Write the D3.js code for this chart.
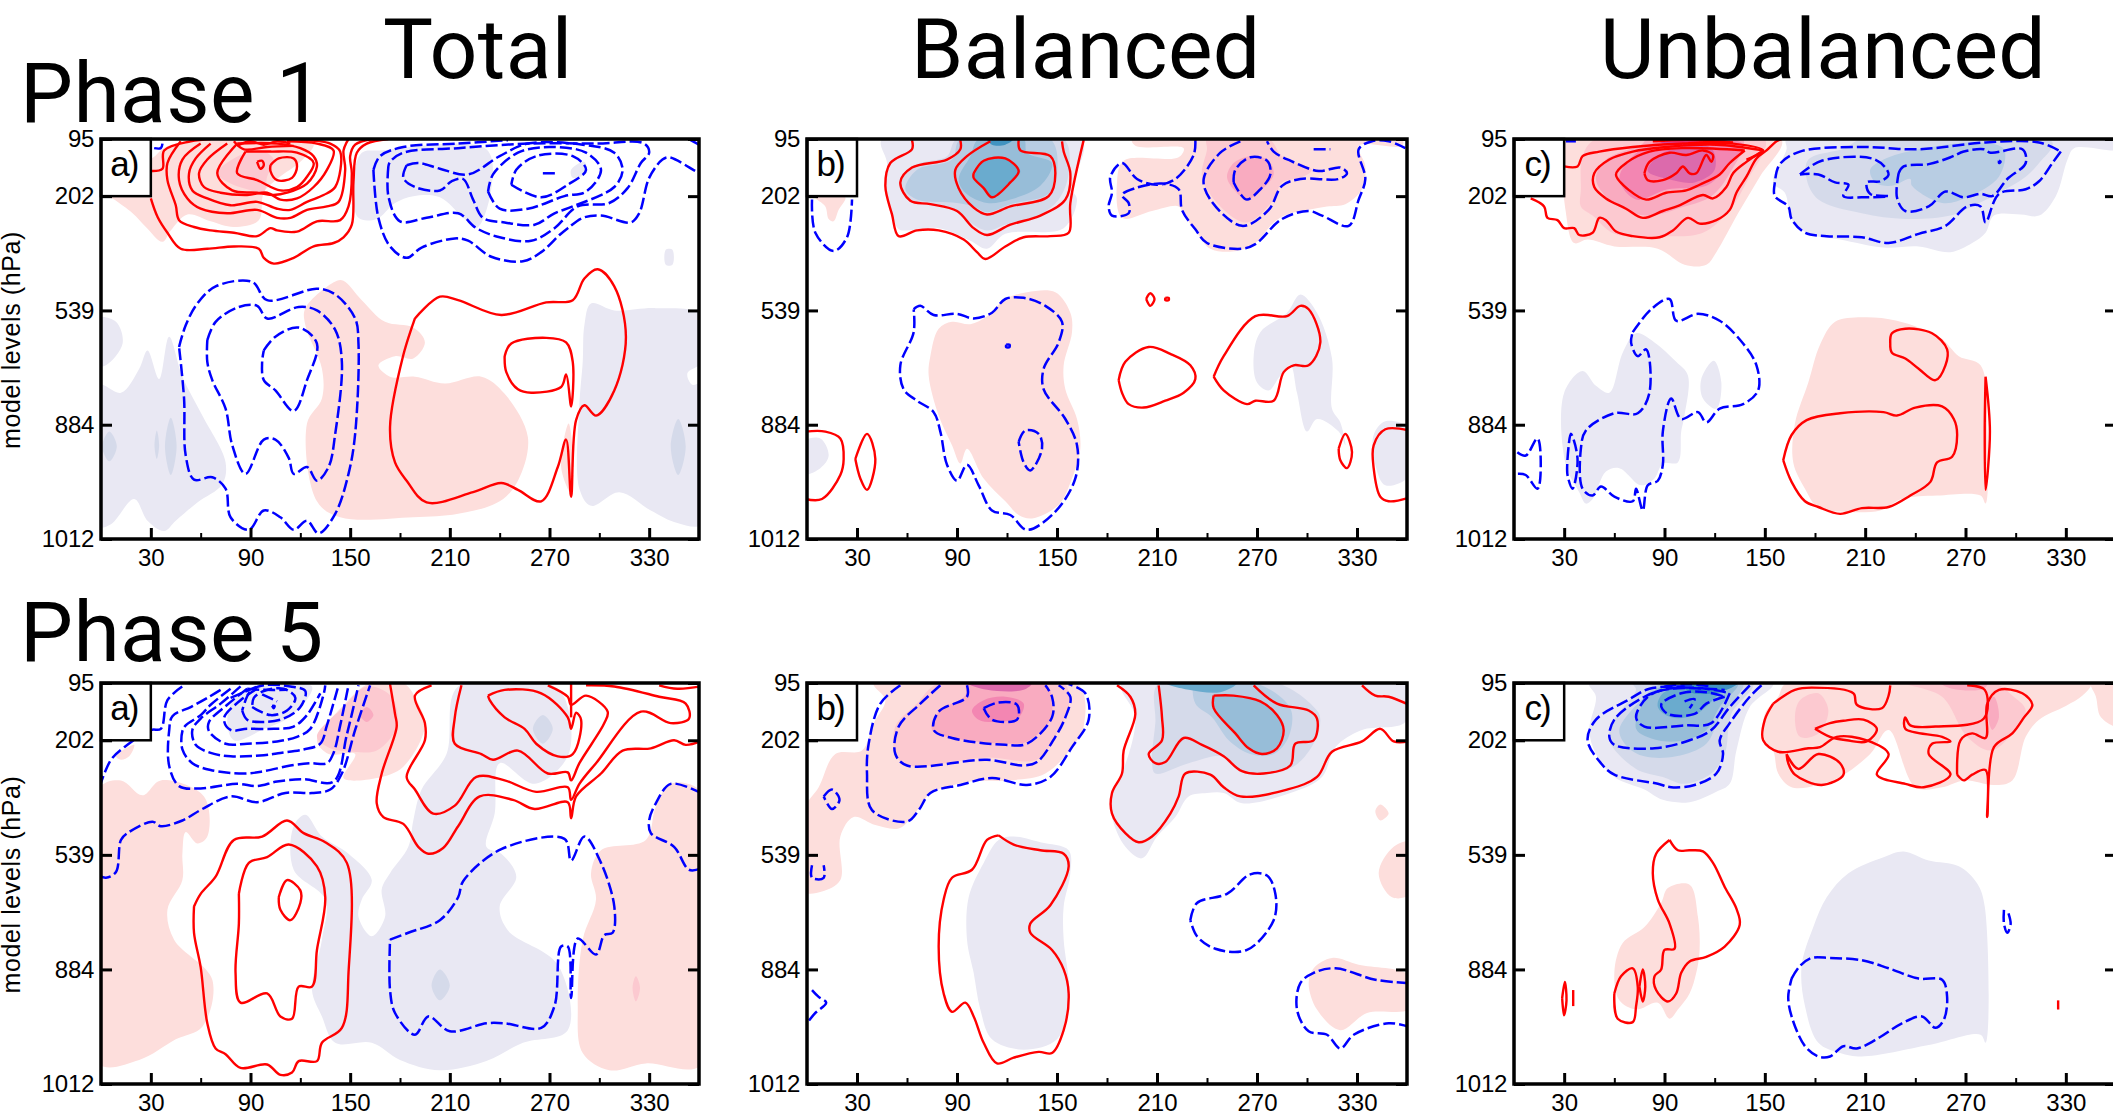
<!DOCTYPE html>
<html>
<head>
<meta charset="utf-8">
<script src="https://cdn.jsdelivr.net/npm/d3@7/dist/d3.min.js"></script>
<style>
  html, body { margin: 0; padding: 0; background: #fff; overflow: hidden; }
  .title { font-family: Roboto, sans-serif; font-size: 84px; letter-spacing: .4px; fill: #000; }
  .tick text, .tag, .ylab { font-family: "Liberation Sans", Arial, sans-serif; fill: #000; }
</style>
</head>
<body>
<svg id="fig" width="2113" height="1116"></svg>
<script>
const ring = p => p.concat([p[0]]);

// axis labels
const lonMajor = [30, 90, 150, 210, 270, 330];
const lonMinor = [60, 120, 180, 240, 300];
const levelTicks = [0, 5, 15, 25, 35];
const levelLabels = ['95', '202', '539', '884', '1012'];

// shaded bands: [band, outline as [lon, model level]]
// contours: red is solid, blue is dashed

// ---------- Phase 1 Total ----------
const p1TotalShade = [
  [-1, [[155,6.9],[152,3.7],[157,1.2],[168,1],[232,.9],[235,4.3],[226,7.8],[218,6.9],[204,5.1],[188,5],[177,5.6],[166,7]]],
  [-1, [[283,2.7],[291,2],[292,3],[284,3.4]]],
  [-1, [[340,9.7],[344,9.7],[344,11],[340,11]]],
  [-1, [[-2,15.7],[9,16],[13,17.9],[3,19.8],[-2,19.8]]],
  [-1, [[-2,21.5],[12,22.2],[23,20.1],[28,18.5],[35,21],[41,17.3],[49,20.8],[61,24.2],[75,28.3],[73,30.2],[58,31.8],[45,33.4],[38,34.3],[28,33.4],[20,31.5],[6,33.7],[-2,33.9]]],
  [-1, [[291,16.3],[295,14.4],[309,15],[334,14.8],[362,15.4],[362,19.5],[353,20.5],[356,21.5],[362,21.4],[362,33.7],[347,33.6],[331,32.5],[312,30.9],[295,32.1],[288,30.6],[288,23.3],[290,19.5]]],
  [-2, [[5,25.6],[9.5,26.9],[5,28.2],[.7,26.9]]],
  [-2, [[42,24.4],[45.5,26.9],[42,29.4],[38.5,26.9]]],
  [-2, [[33.6,25.5],[35,26.8],[33.6,28],[32.2,26.8]]],
  [-2, [[347.5,24.5],[352,26.9],[347.5,29.4],[343,26.9]]],
  [1, [[29,1.8],[39,.7],[60,0],[100,0],[128,.4],[120,2],[107,3.4],[98,4.7],[95,7.1],[80,7.7],[66,7.2],[52,6.6],[42,8],[37,9],[27,7.7],[19,6.5],[8,5.3],[5,5],[5,1.8]]],
  [2, [[70,3],[80,1.7],[96,1],[104,1.8],[100,3.3],[98,4.6],[86,4.3],[78,3.9]]],
  [1, [[123,14.8],[142,12.4],[146,12.4],[157,14.1],[171,16],[188,16.5],[195,17.8],[188,19.2],[177,19],[167,19.8],[174,20.8],[189,20.8],[207,21.4],[229,20.8],[243,22.3],[257,26.1],[251,29.9],[240,31.7],[215,32.8],[188,33.1],[144,33.1],[130,31.7],[124,24.9],[133,22.7],[133,20.1],[123,16.3]]],
  [1, [[281.5,24.9],[284,27.4],[283,31],[277,28.7]]]
];
const p1TotalRed = [
  [[30,5.2],[34,6.8],[40,8.2],[48,9.6],[64,9.6],[80,9.4],[95,9.6],[98,10.4],[104,10.9],[116,10.4],[128,9.4],[140,9.1],[146,8.6],[151,7.5],[152,3.7],[154,1.2],[160,.4],[173,0]],
  [[30,2.8],[37,2.6],[38,1],[54,.2],[66,0]],
  [[48,.2],[40,2.1],[40,3.6],[45,5.8],[47,7.1],[56,7.7],[66,8],[80,8.2],[94,8.5],[102,7.8],[106,8],[118,8.1],[130,7.2],[144,7.1],[149,5.9],[151,3],[150,1.5],[153,.5],[163,0]],
  [[60,.4],[49,1.8],[47,3.6],[52,5.2],[60,6.1],[76,6.5],[94,6.2],[106,6.9],[114,6.9],[124,6.2],[136,5.9],[143,5.5],[147,2.7],[146,1],[149,0]],
  [[66,.4],[57,1.7],[53,3],[55,4.5],[64,5.2],[78,5.8],[94,5.5],[106,6.1],[114,6.2],[124,5.5],[134,4.9],[141,4.2],[144,1.1],[138,.4],[120,.1]],
  [[76,.4],[64,1.8],[59,3],[62,4.2],[72,4.7],[88,4.9],[100,4.7],[108,5.3],[118,5.2],[128,4.2],[136,2.7],[140,1],[130,.4],[112,.2]],
  ring([[82,.4],[70,3],[79,4.5],[94,4.7],[104,4.9],[112,4.7],[124,3.9],[130,2.4],[128,1.5],[120,.8],[106,.4]]),
  ring([[87,1.1],[82,3],[94,3.6],[108,4.5],[118,4.2],[124,3.3],[128,2.1],[118,1.2],[102,1.1]]),
  ring([[102,2.3],[107,1.7],[116,1.7],[118,2.4],[115,3.4],[106,3.6],[102,2.8]]),
  ring([[94,2],[97,1.9],[98,2.3],[96,2.6]]),
  [[80,.2],[86,.9],[100,.7],[116,.6]],
  [[82,.6],[90,.2],[98,.5],[106,.2],[114,.4]],
  ring([[189,15.7],[204,13.8],[215,14.1],[241,15.4],[268,14.3],[284,14.1],[291,12.2],[299,11.4],[309,12.9],[316,17.3],[309,22],[298,24.2],[291,23.3],[286,24.6],[283,31.3],[280,26.3],[275,28.7],[265,31.7],[251,30.7],[241,30.1],[224,30.9],[196,31.8],[184,29.9],[177,28.3],[174,25.2],[182,18.9]]),
  ring([[243,19],[247,17.9],[268,17.4],[280,17.8],[284,19.5],[283,23.4],[280,20.6],[277,21.7],[259,22.2],[251,21.9],[244,20.4]])
];
const p1TotalBlue = [
  [[32,.8],[36,.8],[37,.4]],
  [[164,2.7],[167,6.9],[174,9.4],[184,10.4],[193,9.5],[213,8.7],[221,8.9],[235,10.3],[254,10.7],[265,9.9],[276,8.4],[281,7.8],[290,6.9],[301,6.7],[319,7.3],[324,6.5],[330,3.4],[338,1.8],[342,1.6],[359,2.9],[362,3.1]],
  [[164,2.7],[168,1.5],[182,.7],[215,.4],[245,.1]],
  [[355,.1],[360,.5]],
  ring([[173,2.4],[173,5],[180,7.2],[196,6.9],[215,6.5],[226,7.8],[240,8.6],[259,8.9],[273,7.8],[287,5.9],[306,5.6],[317,4.3],[325,2.1],[330,1.2],[327,.4],[298,.4],[257,.4],[215,.8],[182,1.2],[174,2]]),
  ring([[184,2.3],[182,3.4],[189,4.2],[204,4.5],[211,3.7],[218,3.5],[224,5.3],[230,6.9],[243,7.3],[261,7.5],[273,6.5],[284,5.9],[309,4.2],[314,2.7],[309,1.2],[290,.5],[257,.4],[240,1.5],[221,3.1],[204,2.6],[191,2.1]]),
  ring([[233,4.6],[240,6.1],[257,6.1],[279,5],[292,4.6],[301,2.7],[292,1.2],[270,.7],[251,1.2],[236,3.1]]),
  ring([[247,4],[265,5.1],[281,4],[292,2.7],[284,1.5],[262,1.5],[250,2.7]]),
  [[266,3],[275,3]],
  ring([[47,18.2],[51,16.3],[58,14.4],[69,12.9],[91,12.5],[100,14.1],[130,13.1],[141,13.6],[153,15.7],[155,17.9],[153,25.8],[149,29.3],[141,32.8],[131,34.5],[124,33.4],[116,34.2],[108,33.1],[98,32.5],[89,34.2],[78,33.1],[75,30.6],[67,29.6],[56,29.8],[51,27.7],[50,22.7]]),
  ring([[64,17.6],[69,16],[83,14.7],[94,14.6],[100,15.7],[119,14.7],[130,15],[141,16.7],[145,19.5],[141,25.8],[137,28.7],[130,29.9],[124,28.7],[116,29.3],[113,27.9],[105,26.3],[98,26.3],[87,29.3],[79,26.8],[75,23.6],[67,21.1],[64,19.5]]),
  ring([[98,18.5],[105,17.3],[119,16.5],[130,17.9],[124,21.1],[116,23.8],[105,22],[98,21.1],[97,19.5]])
];

// ---------- Phase 1 Balanced ----------
const p1BalShade = [
  [-1, [[45,0],[165,0],[159,4.3],[162,5.3],[154,7.8],[119,8.3],[108,9.6],[98,8.9],[79,7.8],[60,8],[55,7.9],[51,6.5],[47,4.1],[48,2.1]]],
  [-2, [[60,5.3],[56,3.5],[66,2.2],[84,1.5],[90,0],[154,0],[157,3],[151,5.3],[140,6.6],[119,7.5],[108,8],[98,7.3],[90,6.2],[74,5.7]]],
  [-3, [[59,4.4],[66,2.7],[87,1.8],[92,0],[146,0],[150,3],[145,4.8],[122,5.7],[108,6.4],[100,5.9],[90,5.6],[66,5.3]]],
  [-4, [[91,3.5],[98,1.5],[103,0],[130,0],[132,1.2],[147,2.1],[140,4.1],[122,5.3],[108,5.6],[95,4.7]]],
  [-5, [[100,3.1],[106,1.9],[119,1.7],[128,2.8],[122,3.8],[111,5.1],[106,4.3]]],
  [-6, [[108,0],[124,0],[119,.5],[111,.5]]],
  [1, [[190,1.9],[223,1.6],[226,.8],[197,.6],[195,0],[357,0],[357,.6],[331,.6],[335,2.4],[333,4.4],[323,5.7],[312,5.9],[301,6.2],[288,6.6],[280,7.3],[269,9.1],[258,9.8],[242,9.6],[234,8.2],[226,6.6],[223,5.9],[207,6.3],[189,6.9],[186,3.8]]],
  [2, [[237,3.3],[240,.9],[240,0],[277,0],[285,1.5],[303,2.7],[296,3.4],[285,3.8],[280,5.3],[264,7.3],[248,5.9]]],
  [3, [[252,3.3],[256,2.1],[266,1.5],[277,1.9],[280,3.1],[273,4.4],[264,5.3],[256,4.4]]],
  [1, [[5,5.1],[23,5.1],[19,6.2],[16,7.2],[13,7],[11,5.9]]],
  [1, [[79,16.6],[87,16],[98,16.2],[108,15.5],[119,14],[132,13.4],[149,13.4],[158,15.2],[159,16.9],[154,19.8],[155,21.9],[162,24.5],[164,27.1],[159,29.7],[151,32],[135,33.2],[127,32.9],[119,31.7],[106,29.7],[96,27.1],[92,28.4],[87,26.8],[79,24.2],[73,20.7],[74,19]]],
  [-1, [[-2,26.5],[8,26.2],[13,27.7],[8,28.8],[-2,29.3]]],
  [-1, [[340,25.9],[347,24.7],[362,25.4],[362,29.4],[347,30.3],[341,28.5]]],
  [-1, [[268,19],[272,16.9],[288,15.2],[296,13.6],[306,15.2],[315,19.2],[315,23.6],[320,24.8],[323,26.8],[319,25.6],[306,24.5],[300,25.6],[294,22.2],[290,19.8],[284,20.7],[277,22],[270,21.3]]]
];
const p1BalRed = [
  [[166,.1],[158,5.6],[157,8.2],[146,8.5],[130,8.6],[119,9.4],[107,10.5],[102,9.9],[94,8.8],[79,8],[66,8],[55,8.5],[51,6.6],[47,4.1],[50,2.1],[63,.9],[63,.1]],
  [[153,.2],[154,1.1],[158,3],[155,5.3],[140,6.7],[122,7.5],[108,8.4],[100,7.8],[90,6.3],[74,5.7],[62,5.4],[56,3.8],[63,2.5],[84,1.8],[92,.9],[92,.1]],
  [[127,.1],[128,1],[146,1.5],[149,3],[145,5],[122,5.9],[108,6.6],[100,6],[91,4.3],[89,2.7],[96,1.5],[110,.2]],
  ring([[100,3],[106,1.9],[119,1.7],[127,2.8],[122,3.8],[111,5.1],[106,4.3],[100,3.4]]),
  ring([[203.5,14],[206,13.5],[208.5,14],[206,14.6]]),
  ring([[215,13.9],[217,13.9],[217,14.1],[215,14.1]]),
  ring([[187,21.1],[191,19.5],[205,18.2],[218,18.8],[230,19.8],[233,21],[226,22.2],[215,22.9],[202,23.5],[193,23.2],[189,22.2]]),
  ring([[244,20.8],[250,19],[269,15.5],[288,15.5],[296,14.6],[301,14.9],[308,17.8],[301,19.8],[292,19.8],[286,20.4],[280,22.9],[269,22.9],[264,23.2],[250,22]]),
  [[-1,25.6],[11,25.6],[20,26.2],[22,28],[20,29.4],[9,31.5],[-1,31.5]],
  ring([[29,28],[36,25.8],[41,28],[36,30.7],[32,29.7]]),
  ring([[319,27.1],[323,25.8],[327,27.4],[324,28.8],[320,28.1]]),
  [[361,25.5],[347,25.4],[340,26.8],[340,28.8],[344,31.3],[349,31.7],[361,31.4]]
];
const p1BalBlue = [
  [[233,.1],[232,1.4],[221,3.5],[210,4],[198,3.5],[189,2.1],[182,3.3],[183,4.7],[181,5.9],[183,6.7],[193,6.5],[193,5.6],[189,4.9],[197,4.3],[213,3.9],[223,4.4],[225,6.2],[233,7.9],[240,9.1],[261,9.6],[269,9.2],[285,7],[301,6.3],[309,6.7],[325,7.6],[331,5.3],[335,3.5],[331,.9],[339,.2],[349,.2],[359,.8]],
  [[260,.2],[248,1.2],[238,3.5],[242,5.3],[261,7.6],[277,6.2],[285,4.1],[296,3.5],[319,3.5],[324,3],[320,2.5],[307,2.8],[290,1.9],[280,1.1],[276,.2]],
  [[304,.9],[314,.9]],
  ring([[256,3.8],[257,2.7],[266,1.6],[276,1.9],[278,3.1],[272,4.4],[264,5.3],[260,4.8]]),
  [[3,5.3],[5,8.2],[16,9.8],[24,8.6],[27,5.3]],
  ring([[64,14.9],[68,14.6],[76,15.4],[90,15.3],[100,15.7],[111,15.2],[119,14],[130,13.9],[143,14.6],[153,16],[151,17.8],[142,20.1],[142,21.9],[155,24.5],[162,26.8],[161,29.7],[149,32.6],[132,34.2],[122,32.9],[111,32.5],[103,30.3],[96,28.5],[90,29.9],[84,28.5],[80,25.6],[76,23.9],[66,22.9],[58,21.9],[56,19.8],[64,16.9]]),
  ring([[127,26.5],[131,25.5],[139,25.8],[141,27.1],[134,29],[130,28.3]]),
  ring([[119.5,18],[121.5,18],[121.5,18.2],[119.5,18.2]])
];

// ---------- Phase 1 Unbalanced ----------
const p1UnbShade = [
  [1, [[37,0],[160,0],[147,3.3],[134,6.5],[121,9.9],[115,11],[102,11],[86,9.6],[60,9.4],[44,8.8],[36,9.1],[31,6.4],[30,0]]],
  [2, [[40,4.4],[41,1.5],[49,0],[150,0],[140,3.5],[129,6.2],[113,8.2],[86,8.5],[60,8.3],[47,6.7],[40,5.9]]],
  [3, [[49,3.5],[55,1.8],[76,.5],[80,0],[137,0],[129,3],[118,5],[102,5.9],[78,6.7],[57,5.3]]],
  [4, [[63,3.5],[71,1.5],[92,0],[137,.5],[126,2.7],[115,4.1],[92,4.4],[73,5.3]]],
  [5, [[80,2.8],[86,1.5],[102,.6],[118,.8],[120,2.7],[108,3.8],[92,3.5]]],
  [6, [[84,0],[129,0],[113,.5],[92,.5]]],
  [-1, [[163,0],[362,0],[362,.9],[335,.8],[331,1.8],[324,5],[314,6.7],[303,6.6],[287,6.7],[282,8.2],[274,9.1],[261,9.9],[242,9.4],[221,9.5],[195,8.8],[176,8.3],[166,7],[162,4.7],[155,3.8],[163,.9]]],
  [-2, [[175,3.5],[176,1.8],[198,.8],[208,0],[322,.3],[314,2.1],[306,3.3],[290,4.7],[274,5.9],[261,6.7],[234,7],[208,6.5],[182,5.3]]],
  [-3, [[213,2.7],[221,1.8],[242,.9],[279,.3],[293,.9],[290,3.3],[271,5.1],[256,5.6],[238,4.1],[237,3.5],[226,4.1],[216,3.8]]],
  [-1, [[30,22.2],[41,20.3],[49,21.6],[57,22.2],[65,18.7],[73,17],[84,17.8],[97,19.5],[104,20.7],[102,24.2],[100,25.6],[98,28.3],[89,28.4],[84,29.7],[76,30.3],[63,28.8],[55,29.1],[47,31.5],[43,31.9],[39,30.9],[31,28.5]]],
  [-1, [[112,21],[119.5,19.4],[124,21.3],[121,23.6],[113,22.7]]],
  [1, [[168,24.9],[176,21.3],[183,18],[192,16],[208,15.6],[229,15.9],[255,17.4],[266,19],[279,19.8],[283,25.6],[282,31.9],[279,31.2],[253,31.2],[232,31.5],[219,32.5],[195,32.6],[182,32.3],[174,30.6],[167,28.3]]]
];
const p1UnbRed = [
  [[10,5.2],[18,5.9],[20,6.9],[26,7.1],[30,7.8],[36,7.8],[39,8.4],[47,8.2],[51,6.9],[55,7.1],[61,8.1],[71,8.5],[87,8.6],[95,8],[104,6.9],[111,7.4],[121,7.1],[129,6.2],[133,4.7],[139,3.3],[145,1.7],[151,1],[157,.2],[160,0]],
  [[30,2.4],[38,2.4],[41,1.5],[51,1.1],[71,.7],[101,.4],[131,.4],[149,1],[139,1.8]],
  ring([[149,1],[139,2],[131,3],[127,4.2],[119,5.2],[113,4.9],[99,5.8],[89,6.3],[77,6.9],[67,6.1],[55,5.2],[48,4.2],[48,3],[57,1.8],[71,1.1],[91,.7],[121,.5]]),
  ring([[138,1],[129,2.1],[123,3.1],[111,4],[103,4.5],[91,4.7],[79,5.3],[69,4.5],[61,3.1],[68,2],[81,1.1],[101,.8]]),
  ring([[78,3],[81,2],[93,1.2],[103,1.4],[113,1],[119,1.4],[118,2],[115,1.4],[109,3],[105,3],[101,2.4],[97,3],[89,3.6],[80,3.6]]),
  [[83,.2],[104,.1],[131,.3]],
  ring([[225,17.9],[226,17],[234,16.6],[250,17],[259,18.4],[258,19.8],[252,21.1],[242,20.1],[234,19.2],[226,18.7]]),
  ring([[161,28.1],[166,25.9],[175,24.6],[195,24],[221,23.9],[229,24.2],[240,23.5],[256,23.4],[263,24.5],[265,25.9],[262,27.8],[253,28.3],[249,30],[237,31.2],[224,32.2],[208,32.3],[195,32.8],[182,32.2],[174,31.7],[166,30]]),
  ring([[282,20.8],[284.6,25.6],[282,30.7],[281.5,25.6]])
];
const p1UnbBlue = [
  ring([[327,1.1],[322,2.1],[314,3.7],[306,4.4],[290,4.8],[282,7.3],[279,5.9],[271,5.9],[258,7.6],[242,8.3],[224,9.1],[208,8.6],[187,8.5],[174,8.2],[166,7],[164,5.9],[156,5],[156,3.8],[159,2.2],[171,1.1],[208,.7],[242,.9],[282,.3],[314,.3]]),
  ring([[171,3.1],[184,1.9],[216,1.8],[224,3.1],[219,3.7],[211,3.8],[213,4.8],[224,5],[208,5.1],[197,5],[200,4],[192,3.8],[182,3.1]]),
  ring([[230,3],[233,2.4],[248,2.2],[261,1.6],[269,1.1],[281,.9],[285,1.2],[304,.9],[306,2.1],[295,3.5],[286,5],[279,4.8],[269,5.1],[258,4.6],[248,5.9],[234,6.3],[229,5.1]]),
  ring([[290,1.9],[291,2],[290,2.1]]),
  [[31,.2],[37,.2]],
  ring([[71,16.9],[82,14.9],[93,14],[97,15.9],[110,15.3],[123,15.9],[137,17.9],[145,19.8],[146,22],[137,23.2],[123,23.6],[115,24.8],[110,23.9],[100,24.5],[94,22.7],[89,25.6],[89,28.5],[86,29.9],[80,30.3],[77,32.5],[73,30.6],[71,31.7],[60,31.3],[52,30.4],[47,31.2],[41,30.6],[40,27.1],[43,25.5],[60,24],[74,24],[81,22.2],[79,18.4],[74,19],[70,17.8]]),
  [[2,27.4],[7,27.7],[14,26.2],[16,28.5],[14,30.6],[7,29.4],[2,29.3]],
  ring([[32,28],[34,25.8],[38,28],[35,30.6],[32,29.4]])
];

// ---------- Phase 5 Total ----------
const p5TotalShade = [
  [1, [[-2,9.3],[12,8.5],[25,9.8],[36,8.5],[62,9.9],[64,13.4],[58,14],[51,13],[49,14.9],[49,17.2],[40,19.8],[44,22.4],[67,25.9],[61,30],[45,31.1],[23,32.9],[-2,33.2]]],
  [1, [[9,6.4],[20,5.4],[17,6.4],[12,6.7]]],
  [1, [[162,0],[182,0],[191,1.8],[195,3.8],[182,7.3],[166,8.3],[146,8.3],[153,6.2],[137,6.2],[130,5],[145,2.1]]],
  [2, [[160,.3],[175,1.2],[178,3.8],[166,5.9],[152,6],[138,5.7],[130,4.7],[146,2.1]]],
  [3, [[156,2.8],[160,2.1],[164,2.8],[160,3.4]]],
  [1, [[301,14.6],[328,13.7],[334,10.8],[343,8.8],[362,9.6],[362,33.3],[328,33.2],[306,33.8],[290,32.3],[287,28.2],[290,22.4],[298,18.9],[295,16.6]]],
  [2, [[322,25.6],[324.5,26.6],[322,27.8],[320,26.6]]],
  [-1, [[116,12.5],[123,11.5],[133,13.4],[149,14.9],[163,17.2],[157,18.9],[155,20.4],[163,22.1],[171,20.4],[169,18],[174,16.6],[185,14.3],[188,12],[193,9.3],[208,6.2],[215,.3],[273,.3],[281,2.1],[281,6.4],[261,8.8],[240,7],[237,11.4],[232,14.3],[241,14.9],[250,16.9],[240,19.5],[245,21.6],[275,24.6],[281,30.3],[254,31.4],[232,33],[204,33.8],[180,32.9],[163,31.4],[141,31.4],[133,29.1],[127,26.8],[133,22.4],[135,18.9],[116,16.3]]],
  [-1, [[76,3.2],[83,.9],[127,.3],[116,2.7],[97,4.1],[80,5]]],
  [-2, [[266,2.8],[272,4],[266,5.3],[260,4]]],
  [-2, [[204,25],[210,26.4],[204,27.7],[199,26.4]]]
];
const p5TotalRed = [
  [[174,.1],[177,2.7],[178,3.8],[169,7.9],[166,10.5],[170,11.7],[182,12.3],[191,14.3],[197,14.9],[206,14.4],[215,12.5],[228,9.9],[248,10.2],[261,11],[281,10.4],[283,11.8],[286,9.9],[301,7.9],[314,5.9],[331,5.7],[345,5],[352,5.4],[361,5.1]],
  [[199,.2],[189,1.1],[195,3.5],[195,5],[184,8.2],[189,9.3],[200,11.4],[213,10.7],[226,8.2],[243,8.5],[262,9.5],[281,9.1],[283,10.2],[288,8.8],[298,7],[325,2.5],[343,3.5],[354,3.1],[352,1.8],[336,1.2],[309,.3],[292,.2]],
  [[217,.2],[213,3],[213,5.3],[229,6.2],[236,6.7],[251,5.9],[269,7.9],[281,7.8],[283,8.5],[288,7],[303,3.5],[305,2.5],[292,1.1],[283,1.9],[281,1.2],[269,.2]],
  ring([[233,1.1],[243,.6],[265,.9],[281,3],[283,4],[286,2.6],[289,3.2],[284,6.2],[275,6.4],[262,5.3],[255,4],[243,3],[234,1.5]]),
  [[336,.2],[347,.5],[361,.3]],
  [[283,0],[283,3]],
  ring([[56,19.5],[60,18.4],[69,16.9],[80,13.7],[97,13.4],[112,12],[122,13.1],[135,13.9],[148,15.7],[149,25.3],[145,30.1],[133,31.4],[130,33],[119,33],[115,34],[108,34.2],[100,33.3],[84,33.6],[75,32.4],[69,31.9],[64,29.7],[60,24.8],[56,21.8]]),
  ring([[83,18.4],[89,15.7],[100,15.2],[113,14.1],[130,16],[135,18.7],[130,23.3],[127,26.5],[119,26.5],[115,29.3],[108,29.1],[100,27.1],[84,27.9],[81,25.3],[83,21]]),
  ring([[107,18.7],[112,17.2],[120,18.1],[120,19.2],[114,20.7],[108,19.8]])
];
const p5TotalBlue = [
  [[-1,16.8],[3,17],[9,16.5],[12,13.7],[16,13.1],[31,12.1],[36,12.5],[49,12],[61,11],[78,9.9],[94,10.4],[111,9.6],[127,9.6],[138,9.3],[145,7.9],[153,4.1],[162,.2]],
  [[-1,9.1],[6,6.7],[14,5.6],[30,4.1],[36,4],[40,1.5],[49,.3]],
  [[72,.6],[64,1.3],[54,2.1],[43,2.9],[41,4.2],[41,7.2],[47,9],[60,9.2],[82,8.8],[94,9],[106,8.6],[122,8.4],[140,8.6],[148,4.5],[155,.2]],
  [[78,.5],[66,1.9],[60,2.8],[51,3.7],[49,4.2],[49,5.8],[55,7],[66,7.6],[86,7.9],[98,7.7],[114,7.2],[126,7],[136,7],[140,6.1],[144,3.7],[149,.2]],
  [[84,.3],[72,1.8],[60,3.1],[55,4.1],[57,5.4],[66,6.1],[78,6.4],[98,6.3],[108,6.1],[122,5.8],[132,5.3],[136,3.7],[143,.2]],
  [[88,.5],[76,1.9],[65,3.4],[65,4.2],[75,5.3],[88,5.3],[106,5.1],[118,4.7],[126,4],[134,1],[135,.2]],
  [[94,.5],[84,1.5],[74,3.1],[78,4.1],[88,4],[104,4],[116,3.8],[124,2.8],[132,.9]],
  ring([[85,2.4],[88,3.2],[98,3.4],[110,3.1],[120,2.1],[123,.7],[114,.3],[98,.2],[90,.7]]),
  ring([[91,2.1],[102,2.8],[112,2.4],[117,1.3],[110,.5],[98,.7],[92,1.3]]),
  [[78,1.3],[94,.3]],
  [[97,1],[106,1.6]],
  [[88,.5],[98,.6],[112,.6]],
  ring([[103,2],[104.5,2],[104,2.2]]),
  [[174,22.4],[185,21.8],[204,20.7],[215,18.7],[218,17.3],[241,14.5],[279,13.6],[283,15.5],[291,13.4],[301,15.7],[309,19.5],[308,21.8],[303,22],[298,23.7],[287,22.3],[283,27.5],[281,23],[277,23],[273,28.2],[265,30.1],[243,29.7],[232,29.7],[210,30.4],[197,29.1],[189,30.7],[177,28.8],[174,26.8],[174,22.4]],
  [[361,16.2],[354,16.3],[345,14.3],[331,13.1],[330,12],[334,10.5],[343,8.8],[361,9.6]]
];

// ---------- Phase 5 Balanced ----------
const p5BalShade = [
  [1, [[40,0],[162,0],[166,3.8],[159,5.6],[143,7.9],[122,8.5],[98,8.6],[79,9.3],[74,9.6],[63,11.7],[55,12.7],[41,12.4],[28,11.7],[20,13.4],[20,17.2],[9,18.2],[-2,18.2],[-2,11.1],[7,9.1],[17,6.2],[33,5.9],[40,3.5],[47,1.5]]],
  [2, [[53,6.2],[53,3.8],[66,1.8],[79,0],[154,0],[157,2.1],[149,4.7],[138,6.7],[108,6.5],[60,7.2]]],
  [3, [[75,4.1],[79,2.5],[95,1.1],[96,0],[143,0],[147,1.8],[146,3.2],[132,5.1],[119,5.3],[84,4.7]]],
  [4, [[99,2.4],[106,1.5],[119,1.2],[130,1.8],[127,3],[114,3.4],[103,3.2]]],
  [5, [[96,0],[135,0],[130,.6],[108,.6]]],
  [1, [[341,11.2],[344,10.6],[349,11.4],[344,12]]],
  [1, [[343,16.6],[352,14.3],[362,13.9],[362,18.4],[351,18.7]]],
  [1, [[301,26.2],[304,24.9],[315,24],[331,24.6],[362,25.6],[362,28.4],[336,28.8],[320,30.3],[306,28.5]]],
  [-1, [[189,0],[362,0],[359,3.4],[333,4.1],[317,5.6],[309,8.2],[290,9.6],[261,10.5],[250,9.6],[240,9.6],[229,9.9],[221,11.7],[210,13.4],[201,15.3],[191,14.3],[183,11.7],[183,9.6],[189,7.9],[197,3]]],
  [-2, [[207,7],[209,3.5],[211,0],[282,0],[306,2.4],[308,3.2],[305,5],[293,7.2],[274,8],[261,7.7],[250,6.4],[229,7],[209,7.9]]],
  [-3, [[233,1.8],[233,0],[269,0],[290,2.2],[289,4.7],[280,6.2],[266,6.2],[253,5],[243,3]]],
  [-4, [[244,1.1],[256,1.1],[272,1.6],[282,2.8],[286,4.1],[282,5.7],[273,6.2],[265,5.7],[257,4.4],[244,2.2]]],
  [-5, [[215,0],[258,0],[248,.8],[229,.6]]],
  [-1, [[96,22.4],[97,18.7],[106,15.7],[115,13.7],[124,13.4],[140,13.9],[157,14.6],[158,16.6],[154,19.5],[154,22.4],[157,25.9],[157,27.7],[150,31.1],[130,32],[111,31.1],[104,28.5],[100,25.3]]]
];
const p5BalRed = [
  [[333,.2],[341,1.1],[349,1.2],[361,1.9]],
  [[186,.2],[194,1.2],[197,2.7],[190,5.9],[189,7.9],[183,9.6],[183,11.4],[191,13.1],[199,13.9],[207,13.4],[218,11.4],[223,9.9],[227,7.9],[242,8],[250,9.1],[260,9.9],[288,9.3],[306,8.2],[315,6],[333,5.1],[344,4],[352,5.1],[361,5.1]],
  [[211,.2],[213,3],[213,5],[205,6.2],[209,7],[215,6.9],[226,4.8],[237,5.4],[250,6.4],[261,7.7],[274,7.9],[290,7.2],[293,5.3],[304,5],[306,3.1],[301,2.4],[282,1.8],[268,.2]],
  ring([[244,1.1],[256,1.1],[272,1.6],[282,2.8],[286,4.1],[282,5.7],[273,6.2],[265,5.7],[257,4.4],[244,2.2]]),
  ring([[115,13.3],[108,13.7],[99,16.3],[87,17],[82,18.9],[79,23],[82,27.1],[87,28.7],[95,27.9],[100,29.1],[106,31.4],[114,33.2],[124,32.7],[139,32.2],[147,32.3],[154,30.3],[157,27.1],[154,25],[147,23.3],[134,21.8],[134,21],[146,19.4],[157,16],[154,14.9],[140,14.6],[124,14.1]])
];
const p5BalBlue = [
  [[56,.2],[44,1.8],[37,5.3],[36,7.9],[39,11.1],[60,12.1],[67,11.1],[74,9.6],[92,8.9],[111,8.3],[132,8.9],[146,8.2],[159,5.6],[169,3.2],[167,.9],[157,.1]],
  [[80,.2],[68,1.8],[55,3.8],[53,6.2],[60,7.2],[108,6.7],[130,7.2],[138,6.9],[149,4.7],[155,3],[158,1.2],[151,.2]],
  [[96,.2],[96,1.2],[79,2.5],[76,4.1],[87,4.8],[119,5.4],[132,5.3],[147,3],[147,1.2],[143,.2]],
  ring([[106,2.2],[115,1.7],[126,1.9],[126,3.2],[111,3.2]]),
  ring([[10,9.9],[15,9.3],[19.5,10.2],[15,11]]),
  [[3,15.9],[3,17],[10,17],[10,15.9]],
  [[3,26.8],[7,27.4],[11.5,27.9],[5,28.8],[1,29.5]],
  ring([[230,20.7],[234,19.2],[252,18.4],[266,16.7],[276,16.8],[281,18.4],[280,20.7],[264,23.3],[245,23.2],[234,22.1]]),
  [[361,26.2],[341,25.9],[317,24.9],[304,25.3],[296,26.2],[294,28.5],[301,30.4],[312,30.7],[320,31.9],[328,30.7],[349,29.7],[361,30]]
];

// ---------- Phase 5 Unbalanced ----------
const p5UnbShade = [
  [-1, [[45,0],[155,0],[141,2.1],[133,5.9],[129,8.8],[121,9.5],[105,10.4],[89,10.2],[78,9.3],[60,8.2],[49,6.2],[45,4.1],[49,1.2]]],
  [-2, [[57,5],[60,3.2],[73,.6],[71,0],[143,0],[130,2.7],[126,6.2],[118,7.9],[102,8.8],[89,8.2],[73,7.5]]],
  [-3, [[63,4.1],[76,1.5],[89,0],[137,0],[123,3],[115,5.3],[97,6.4],[78,6.4],[68,5.6]]],
  [-4, [[73,4],[80,1.2],[94,0],[134,0],[123,2.1],[115,4.1],[102,5],[86,5]]],
  [-5, [[86,2.1],[89,.9],[105,.3],[129,0],[121,1.2],[108,2.8],[94,3]]],
  [-6, [[100,0],[134,0],[123,.8],[105,.8]]],
  [1, [[163,0],[345,0],[340,1.1],[330,2],[314,3.2],[306,4.7],[298,8.5],[287,8.9],[269,8.5],[256,9.1],[240,9.1],[224,4.1],[213,6.2],[195,8.2],[182,8.9],[166,9.1],[158,7.9],[155,5.9],[150,5],[150,2.7],[158,1.2]]],
  [1, [[345,0],[362,0],[362,3.8],[351,3],[348,1.2]]],
  [2, [[168,3],[171,1.5],[182,.9],[188,2.4],[182,4.4],[171,4.7]]],
  [2, [[234,0],[287,0],[298,1.1],[306,2.4],[298,4.4],[285,5.9],[271,4.7],[256,1.2]]],
  [3, [[283,1.8],[287,1.2],[290,3],[286,4.1]]],
  [3, [[255,0],[283,0],[281,.5],[262,.5]]],
  [1, [[60,25.3],[65,22.7],[78,21.3],[88,19.2],[92,17.9],[105,17.6],[110,20.4],[111,23.3],[109,25.3],[105,27.1],[98,28.5],[93,29.3],[86,27.9],[73,28.5],[63,27.7]]],
  [-1, [[172,24.7],[179,21.3],[187,18.7],[200,16.6],[221,15.2],[233,14.7],[248,15.5],[266,16],[277,17.5],[281.5,19.5],[282,31.4],[279,30.7],[248,31.6],[208,32.6],[195,32.3],[182,31.4],[174,28.2]]]
];
const p5UnbRed = [
  [[155,1.8],[168,.6],[178,.4],[203,.9],[205,1.9],[220,2.2],[224,1.1],[225,.2]],
  [[155,1.8],[150,3.2],[149,5],[158,6],[176,5.7],[183,5.6],[193,4.7],[211,5],[224,6.2],[217,8],[234,8.8],[245,9.1],[261,8],[248,6.2],[250,5.3],[261,5.1],[256,4.7],[234,4],[234,3],[237,3.7],[252,3.8],[281,3.1],[281.5,.6],[271,.2]],
  ring([[265,8],[267,5],[274,4.4],[282,4.8],[283,1.8],[290,.6],[304,.9],[310,1.9],[305,3],[298,4.4],[287,5.6],[283,11.7],[282,7.6],[274,8],[269,8.5]]),
  ring([[180,4],[189,3.5],[197,3.3],[209,3.2],[217,4],[211,5.1],[199,5],[189,4.7]]),
  ring([[163,6.2],[170,7.5],[182,6.2],[195,7],[197,8],[184,8.9],[168,8],[164,7]]),
  ring([[93,13.7],[85,14.9],[83,16.6],[86,18.9],[93,21],[96,23.2],[90,23.3],[88,25],[84,25.6],[85,26.8],[92,27.8],[97,27.1],[100,25.3],[105,24.3],[115,23.9],[126,23],[135,21.1],[133,19.7],[126,17.8],[119,15.7],[113,14.7],[105,14.6],[98,14.6]]),
  ring([[60,27.1],[64,25.6],[71,24.9],[74,26.5],[73,28.2],[71,29.6],[62,29.3]]),
  ring([[75,26.5],[77,25],[78.5,26.5],[77,27.8]]),
  ring([[28.8,27.5],[30.4,26.1],[31.4,27.7],[29.9,29]]),
  [[35.4,26.8],[35.4,28.2]],
  [[325.4,27.7],[325.4,28.5]]
];
const p5UnbBlue = [
  [[148,.2],[141,1.2],[129,3.5],[123,5],[125,6.2],[121,7.9],[108,8.9],[94,9.1],[86,8.8],[60,8],[52,7],[44,5],[49,3.2],[68,1.5],[81,.5],[102,.3]],
  [[141,.2],[129,2.1],[118,4.1],[105,5],[84,5.7],[60,5.4],[57,4.7],[60,3.2],[78,1.2],[94,.5],[126,.6]],
  ring([[129,.9],[118,3.5],[102,3.7],[78,3.8],[73,3],[80,1.2],[92,.5],[115,.5]]),
  ring([[126,1.2],[115,1.8],[108,2.7],[92,2.7],[88,1.9],[100,.9],[115,.8]]),
  [[102,1.6],[108,1.4],[105,2.2]],
  [[90,.3],[104,.1],[118,.3]],
  ring([[166,25.8],[171,24.7],[178,24],[189,24],[208,24.2],[224,24.9],[242,25.8],[256,25.9],[259,27.4],[257,29.4],[252,30.1],[244,29.1],[232,29.7],[219,30.9],[205,31.9],[197,31.7],[189,32.6],[182,32.6],[174,31.7],[166,29.1],[164,27.4]]),
  [[293,19.8],[293,21],[295,21.8],[297,21],[295,19.8]]
];

// layout
const W = 2113, H = 1116;
const cols = [{x: 101, w: 598}, {x: 807, w: 600}, {x: 1514, w: 602}];
const rows = [{y: 139, h: 400}, {y: 683, h: 401}];
const shadeCols = {
  '-1': '#e9e8f3', '-2': '#d5daea', '-3': '#b8cde3', '-4': '#97bdd8', '-5': '#6babce', '-6': '#3f93c0',
  '1': '#fddedc', '2': '#fcc9d0', '3': '#f9abc0', '4': '#f386b2', '5': '#dc6aac', '6': '#d6409c'
};

const svg = d3.select('#fig');
svg.append('rect').attr('width', W).attr('height', H).attr('fill', '#fff');

const defs = svg.append('defs');
defs.append('filter').attr('id', 'soft')
  .append('feGaussianBlur').attr('stdDeviation', 0.4);

function paintPanel(col, row, tag, id, shade, red, blue, showY) {
  const x = d3.scaleLinear().domain([0, 360]).range([col.x, col.x + col.w]);
  const y = d3.scaleLinear().domain([0, 35]).range([row.y, row.y + row.h]);

  defs.append('clipPath').attr('id', 'clip' + id)
    .append('rect')
    .attr('x', col.x).attr('y', row.y)
    .attr('width', col.w).attr('height', row.h);

  const g = svg.append('g').attr('id', id);
  const marks = g.append('g').attr('clip-path', 'url(#clip' + id + ')')
    .append('g').attr('filter', 'url(#soft)');

  const closed = d3.line().x(d => x(d[0])).y(d => y(d[1])).curve(d3.curveCatmullRomClosed.alpha(0.5));
  const open = d3.line().x(d => x(d[0])).y(d => y(d[1])).curve(d3.curveCatmullRom.alpha(0.5));

  marks.selectAll('path.shade').data(shade).enter().append('path')
    .attr('class', 'shade')
    .attr('d', d => closed(d[1]))
    .attr('fill', d => shadeCols[d[0]]);

  marks.selectAll('path.red').data(red).enter().append('path')
    .attr('class', 'red')
    .attr('d', open)
    .attr('fill', 'none')
    .attr('stroke', '#ff0000')
    .attr('stroke-width', 2.4);

  marks.selectAll('path.blue').data(blue).enter().append('path')
    .attr('class', 'blue')
    .attr('d', open)
    .attr('fill', 'none')
    .attr('stroke', '#0000ff')
    .attr('stroke-width', 2.5)
    .style('stroke-dasharray', '12, 4');

  // corner label box
  g.append('rect')
    .attr('x', x(0)).attr('y', y(0))
    .attr('width', x(30) - x(0)).attr('height', y(5) - y(0))
    .attr('fill', '#fff').attr('stroke', '#000').attr('stroke-width', 2.5);
  g.append('text').attr('class', 'tag')
    .attr('x', (x(0) + x(30)) / 2 - 2).attr('y', y(3.2))
    .attr('text-anchor', 'middle')
    .style('font-size', '35px').style('letter-spacing', '-2px')
    .text(tag);

  // frame
  g.append('rect')
    .attr('x', col.x).attr('y', row.y)
    .attr('width', col.w).attr('height', row.h)
    .attr('fill', 'none').attr('stroke', '#000').attr('stroke-width', 3.5);

  // axes
  const bottom = g.append('g')
    .attr('transform', 'translate(0,' + (row.y + row.h) + ')')
    .call(d3.axisBottom(x).tickValues(lonMajor).tickSizeInner(-11).tickSizeOuter(0).tickFormat(d3.format('d')));
  bottom.select('.domain').remove();
  bottom.selectAll('line').attr('stroke-width', 3);
  bottom.selectAll('text').style('font-size', '24px').attr('dy', '.72em').attr('y', 10);

  const minor = g.append('g')
    .attr('transform', 'translate(0,' + (row.y + row.h) + ')')
    .call(d3.axisBottom(x).tickValues(lonMinor).tickSizeInner(-6).tickSizeOuter(0).tickFormat(''));
  minor.select('.domain').remove();
  minor.selectAll('line').attr('stroke-width', 2);

  const left = g.append('g')
    .attr('transform', 'translate(' + col.x + ',0)')
    .call(d3.axisLeft(y).tickValues(levelTicks).tickSizeInner(-11).tickSizeOuter(0).tickPadding(7)
      .tickFormat((d, i) => levelLabels[i]));
  left.select('.domain').remove();
  left.selectAll('line').attr('stroke-width', 3);
  left.selectAll('text').style('font-size', '24px').style('letter-spacing', '-0.3px');

  const right = g.append('g')
    .attr('transform', 'translate(' + (col.x + col.w) + ',0)')
    .call(d3.axisRight(y).tickValues(levelTicks).tickSizeInner(-11).tickSizeOuter(0).tickFormat(''));
  right.select('.domain').remove();
  right.selectAll('line').attr('stroke-width', 3);

  if (showY) {
    g.append('text').attr('class', 'ylab')
      .attr('transform', 'translate(20,' + (row.y + row.h / 2 + 1) + ') rotate(-90)')
      .attr('text-anchor', 'middle')
      .style('font-size', '25px')
      .style('letter-spacing', '.6px')
      .text('model levels (hPa)');
  }
}

paintPanel(cols[0], rows[0], 'a)', 'p1a', p1TotalShade, p1TotalRed, p1TotalBlue, true);
paintPanel(cols[1], rows[0], 'b)', 'p1b', p1BalShade, p1BalRed, p1BalBlue, false);
paintPanel(cols[2], rows[0], 'c)', 'p1c', p1UnbShade, p1UnbRed, p1UnbBlue, false);
paintPanel(cols[0], rows[1], 'a)', 'p5a', p5TotalShade, p5TotalRed, p5TotalBlue, true);
paintPanel(cols[1], rows[1], 'b)', 'p5b', p5BalShade, p5BalRed, p5BalBlue, false);
paintPanel(cols[2], rows[1], 'c)', 'p5c', p5UnbShade, p5UnbRed, p5UnbBlue, false);

// big titles
const titles = [
  ['Total', 383, 78],
  ['Balanced', 911, 78],
  ['Unbalanced', 1600, 78],
  ['Phase 1', 20, 122],
  ['Phase 5', 20, 661]
];
svg.selectAll('text.title').data(titles).enter().append('text')
  .attr('class', 'title')
  .attr('x', d => d[1])
  .attr('y', d => d[2])
  .text(d => d[0]);
</script>
</body>
</html>
